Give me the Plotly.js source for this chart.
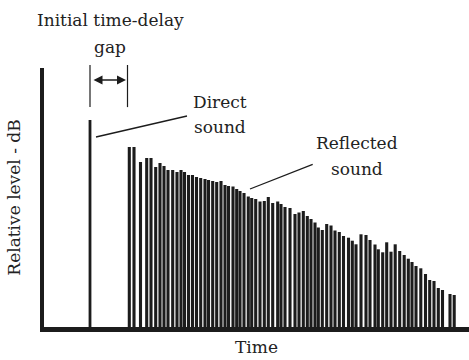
<!DOCTYPE html>
<html>
<head>
<meta charset="utf-8">
<script src="https://cdn.plot.ly/plotly-3.0.1.min.js"></script>
<style>html,body{margin:0;padding:0;background:#fff;}#chart{width:469px;height:360px;}</style>
</head>
<body>
<div id="chart"></div>
<script>
// Direct sound arrival (time units, relative level units)
const directTime = [46];
const directLevel = [207];

// Reflected sound arrivals
const reflectedTime = [85.3, 90, 96.5, 102.7, 107, 111.7, 116, 120, 124, 128.7, 133, 137, 140.5, 144.5, 148.5, 152.5, 156.7, 161, 164.5, 168.7, 172.7, 177, 181, 184.5, 189, 192.7, 196, 200, 204.3, 207.7, 211.7, 216, 220.3, 224.3, 228.7, 233.7, 237, 241, 246, 251, 255, 259.3, 263.3, 267, 271, 274.3, 278.3, 282.7, 287, 291, 295.3, 299.5, 304.5, 308.3, 312, 317, 322, 326, 331, 334.3, 338.7, 342.7, 347, 351.2, 355.7, 360.2, 364.3, 368, 372, 376.8, 381.5, 385.7, 390, 394.3, 398.5, 406, 410.2];
const reflectedLevel = [180, 180, 165, 169, 169, 160, 164, 161, 157, 157, 155, 157, 155, 152, 152, 150, 149, 148, 147, 146, 145, 146, 142, 141, 140.5, 138, 136, 134, 130.5, 129, 128, 125.5, 126, 130, 124, 125.5, 123, 120, 119, 113, 114.5, 116, 111, 108, 104.5, 99.5, 97, 103, 101.5, 96.5, 95, 91, 89.3, 86.3, 82.7, 92.7, 92, 87, 82.5, 77.7, 74.7, 84.7, 75.3, 82.7, 76, 72, 68.3, 65, 61, 58.7, 53, 47, 46, 39, 37, 33, 32];

// Text labels
const xTitle = 'Time';
const yTitle = 'Relative level - dB';
const gapLabel = ['Initial time-delay', 'gap'];
const directLabel = ['Direct', 'sound'];
const reflectedLabel = ['Reflected', 'sound'];

const ink = '#1c1c1c';
const font = {family: 'DejaVu Serif, serif', size: 17, color: '#222'};

const traces = [
  {type: 'bar', x: directTime, y: directLevel, width: 2.8, marker: {color: ink, line: {width: 0}}, hoverinfo: 'skip'},
  {type: 'bar', x: reflectedTime, y: reflectedLevel, width: 3.1, marker: {color: ink, line: {width: 0}}, hoverinfo: 'skip'}
];

const gapStart = directTime[0];
const gapEnd = reflectedTime[0] - 1.8;

const layout = {
  width: 469, height: 360,
  margin: {l: 44, r: 0, t: 68, b: 33},
  paper_bgcolor: '#fff', plot_bgcolor: '#fff',
  showlegend: false,
  font: font,
  xaxis: {range: [0, 425], showgrid: false, zeroline: false, showticklabels: false, ticks: '',
          showline: true, linewidth: 5, linecolor: ink, fixedrange: true,
          title: {text: xTitle, font: font, standoff: 12}},
  yaxis: {range: [0, 259], showgrid: false, zeroline: false, showticklabels: false, ticks: '',
          showline: true, linewidth: 4, linecolor: ink, fixedrange: true,
          title: {text: yTitle, font: font, standoff: 16}},
  shapes: [
    {type: 'line', xref: 'x', yref: 'paper', x0: gapStart, x1: gapStart, y0: 0.849, y1: 1.0116, line: {color: ink, width: 1.2}},
    {type: 'line', xref: 'x', yref: 'paper', x0: gapEnd, x1: gapEnd, y0: 0.849, y1: 1.0116, line: {color: ink, width: 1.2}},
    {type: 'line', xref: 'x', yref: 'y', x0: 52, y0: 190, x1: 143, y1: 211, line: {color: ink, width: 1.3}},
    {type: 'line', xref: 'x', yref: 'y', x0: 206, y0: 138, x1: 268.7, y1: 162.7, line: {color: ink, width: 1.3}}
  ],
  annotations: [
    {xref: 'x', yref: 'paper', x: gapEnd - 1.5, y: 0.9537, axref: 'x', ayref: 'pixel', ax: gapStart + 2, ay: 0,
     text: '', showarrow: true, arrowhead: 2, startarrowhead: 2, arrowside: 'end+start', arrowsize: 1.2, startarrowsize: 1.2, arrowwidth: 1.5, arrowcolor: ink, standoff: 0, startstandoff: 0},
    {xref: 'x', yref: 'paper', x: 66, y: 1.1853, text: gapLabel[0], showarrow: false, font: font, xanchor: 'center', yanchor: 'middle'},
    {xref: 'x', yref: 'paper', x: 66, y: 1.081, text: gapLabel[1], showarrow: false, font: font, xanchor: 'center', yanchor: 'middle'},
    {xref: 'x', yref: 'y', x: 176, y: 225.3, text: directLabel[0], showarrow: false, font: font, xanchor: 'center', yanchor: 'middle'},
    {xref: 'x', yref: 'y', x: 176, y: 200.3, text: directLabel[1], showarrow: false, font: font, xanchor: 'center', yanchor: 'middle'},
    {xref: 'x', yref: 'y', x: 312.7, y: 183.7, text: reflectedLabel[0], showarrow: false, font: font, xanchor: 'center', yanchor: 'middle'},
    {xref: 'x', yref: 'y', x: 313, y: 158, text: reflectedLabel[1], showarrow: false, font: font, xanchor: 'center', yanchor: 'middle'}
  ]
};

Plotly.newPlot('chart', traces, layout, {displayModeBar: false, staticPlot: true});
</script>
</body>
</html>
